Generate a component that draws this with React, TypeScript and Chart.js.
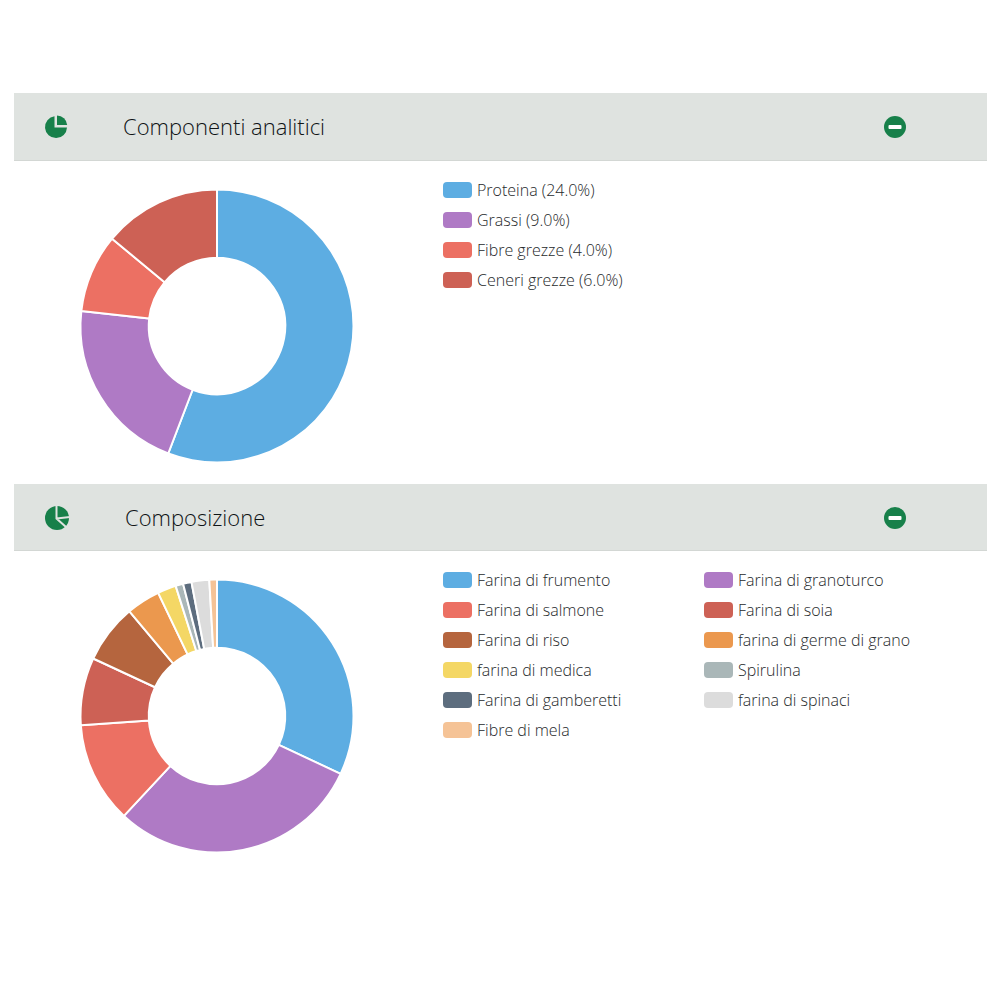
import { useEffect, useRef } from 'react';
import { Chart, registerables } from 'chart.js';

Chart.register(...registerables);

const analyticLabels = ['Proteina (24.0%)', 'Grassi (9.0%)', 'Fibre grezze (4.0%)', 'Ceneri grezze (6.0%)'];
const analyticValues = [24, 9, 4, 6];
const analyticColors = ['#5dade2', '#af7ac5', '#ec7063', '#cd6155'];

const compositionLabels = [
  'Farina di frumento',
  'Farina di granoturco',
  'Farina di salmone',
  'Farina di soia',
  'Farina di riso',
  'farina di germe di grano',
  'farina di medica',
  'Spirulina',
  'Farina di gamberetti',
  'farina di spinaci',
  'Fibre di mela',
];
const compositionValues = [32, 30, 12, 8, 7, 4, 2.2, 0.9, 1, 2.1, 0.9];
const compositionColors = [
  '#5dade2',
  '#af7ac5',
  '#ec7063',
  '#cd6155',
  '#b5653e',
  '#eb984e',
  '#f4d765',
  '#aab7b8',
  '#5d6d7e',
  '#dcdcdc',
  '#f5c396',
];

const FONT = '"Open Sans", sans-serif';
const GREEN = '#17804a';

interface DonutProps {
  labels: string[];
  values: number[];
  colors: string[];
  top: number;
}

function Donut({ labels, values, colors, top }: DonutProps) {
  const chartRef = useRef<HTMLCanvasElement>(null);

  useEffect(() => {
    if (!chartRef.current) return;
    const chart = new Chart(chartRef.current, {
      type: 'doughnut',
      data: {
        labels,
        datasets: [{
          data: values,
          backgroundColor: colors,
          borderColor: '#ffffff',
          borderWidth: 2,
        }],
      },
      options: {
        responsive: false,
        animation: false,
        radius: 136.5,
        cutout: '50%',
        plugins: {
          legend: { display: false },
          tooltip: { enabled: false },
        },
      },
    });
    return () => chart.destroy();
  }, [labels, values, colors]);

  return (
    <canvas
      ref={chartRef}
      width={290}
      height={290}
      style={{ position: 'absolute', left: 72, top, width: 290, height: 290 }}
    />
  );
}

function PieIcon({ x, y, split }: { x: number; y: number; split: boolean }) {
  return (
    <svg width={26} height={26} viewBox="0 0 26 26" style={{ position: 'absolute', left: x - 13, top: y - 13 }}>
      {split ? (
        <>
          <circle cx={13} cy={13} r={12} fill={GREEN} />
          <path d="M12.5 0 L12.5 13.5 L22 22 M12.5 13.5 L26 12" fill="none" stroke="#dfe3e0" strokeWidth={2} />
        </>
      ) : (
        <>
          <path d="M11.5 2.2 A11 11 0 1 0 24 13.5 L11.5 13.5 Z" fill={GREEN} />
          <path d="M14 1.5 A10.5 10.5 0 0 1 24.2 11 L14 11 Z" fill={GREEN} />
        </>
      )}
    </svg>
  );
}

function MinusIcon({ x, y }: { x: number; y: number }) {
  return (
    <svg width={24} height={24} viewBox="0 0 24 24" style={{ position: 'absolute', left: x - 12, top: y - 12 }}>
      <circle cx={12} cy={12} r={11} fill={GREEN} />
      <rect x={5.5} y={10} width={13} height={4} rx={1} fill="#ffffff" />
    </svg>
  );
}

interface HeaderProps {
  top: number;
  height: number;
  title: string;
  titleX: number;
  pieX: number;
  iconY: number;
  split: boolean;
}

function Header({ top, height, title, titleX, pieX, iconY, split }: HeaderProps) {
  return (
    <>
      <div style={{ position: 'absolute', left: 14, top, width: 973, height, background: '#dfe3e0', borderBottom: '1px solid #d3d7d4' }} />
      <PieIcon x={pieX} y={iconY} split={split} />
      <div style={{ position: 'absolute', left: titleX, top: iconY - 21, height: 40, lineHeight: '40px', fontFamily: FONT, fontWeight: 300, fontSize: 22, color: '#0f1416', whiteSpace: 'nowrap' }}>
        {title}
      </div>
      <MinusIcon x={895} y={iconY} />
    </>
  );
}

function LegendItem({ label, color, x, y }: { label: string; color: string; x: number; y: number }) {
  return (
    <>
      <div style={{ position: 'absolute', left: x, top: y - 8, width: 29, height: 16, borderRadius: 4, background: color }} />
      <div style={{ position: 'absolute', left: x + 34, top: y - 15, height: 30, lineHeight: '30px', fontFamily: FONT, fontWeight: 300, fontSize: 16, color: '#26292b', whiteSpace: 'nowrap' }}>
        {label}
      </div>
    </>
  );
}

export default function App() {
  return (
    <div style={{ position: 'absolute', left: 0, top: 0, width: 1000, height: 1000, background: '#ffffff', overflow: 'hidden' }}>
      <Header top={93} height={67} title="Componenti analitici" titleX={123} pieX={56} iconY={127} split={false} />
      <Donut labels={analyticLabels} values={analyticValues} colors={analyticColors} top={181} />
      {analyticLabels.map((label, i) => (
        <LegendItem key={label} label={label} color={analyticColors[i]} x={443} y={190 + i * 30} />
      ))}

      <Header top={484} height={66} title="Composizione" titleX={125} pieX={57} iconY={518} split />
      <Donut labels={compositionLabels} values={compositionValues} colors={compositionColors} top={571} />
      {compositionLabels.map((label, i) => (
        <LegendItem
          key={label}
          label={label}
          color={compositionColors[i]}
          x={i % 2 === 0 ? 443 : 704}
          y={580 + Math.floor(i / 2) * 30}
        />
      ))}
    </div>
  );
}
